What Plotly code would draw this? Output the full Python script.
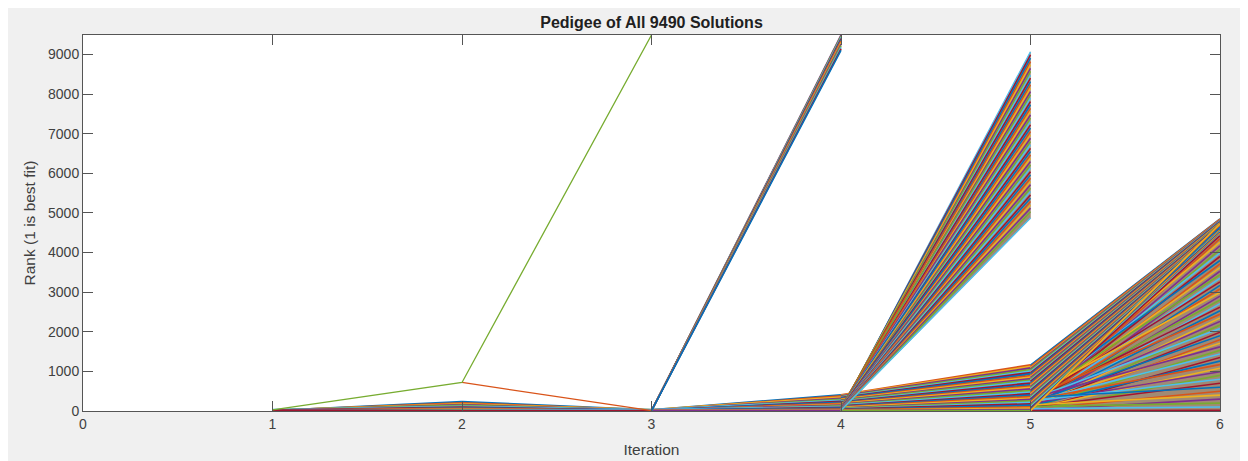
import plotly.graph_objects as go

# ---------------- data (ranks) ----------------
iterations = [0, 1, 2, 3, 4, 5, 6]
n_solutions = 9490

# the single long pedigee that climbs to the top at iteration 3
lead_iter = [1, 2, 3]
lead_rank = [30, 720, 9490]
# its sibling that drops back to the bottom at iteration 3
drop_iter = [2, 3]
drop_rank = [720, 10]

seg12_start = [3, 8, 12, 5, 18, 25, 10, 2, 15, 6, 20, 1, 9, 14]
seg12_end = [230, 195, 170, 150, 130, 110, 90, 70, 55, 40, 28, 16, 8, 2]

seg23_start = [230, 195, 170, 150, 130, 110, 90, 70, 55, 40, 28, 16, 8, 2]
seg23_end = [20, 15, 28, 10, 5, 22, 3, 12, 8, 1, 18, 4, 25, 2]

seg34_start = [20, 15, 28, 10, 5, 22, 3, 12, 8, 1, 18, 4, 25, 2, 14, 7, 11, 6]
seg34_end = [400, 370, 340, 310, 285, 260, 235, 210, 185, 160, 140, 120, 100, 80, 60, 40, 20, 5]

fan34_start = [2, 5, 1, 8, 3, 10, 4, 6, 12, 7, 9, 2]
fan34_end = [9490, 9460, 9430, 9400, 9370, 9340, 9300, 9260, 9220, 9180, 9140, 9100]

seg45_start = [400, 390, 375, 360, 345, 330, 320, 300, 290, 270,
               255, 240, 225, 210, 200, 185, 170, 155, 140, 125,
               110, 100, 85, 70, 60, 50, 40, 30, 20, 12, 6, 2]
seg45_end = [1160, 1120, 1080, 1040, 1000, 965, 930, 890, 850, 810,
             775, 740, 700, 660, 625, 590, 550, 510, 470, 430,
             395, 360, 320, 285, 250, 210, 175, 140, 100, 65, 30, 5]

fan45_start = [5, 12, 30, 8, 45, 20, 60, 15, 75, 35,
               90, 25, 50, 100, 40, 70, 10, 95, 55, 85,
               18, 80, 65, 90, 28, 75, 48, 60, 38, 70,
               50, 22, 45, 58, 30, 42, 25, 35, 32, 20,
               28, 15, 25, 18, 12, 22, 8, 15, 5, 20]
fan45_end = [9066, 8990, 8905, 8820, 8740, 8650, 8570, 8480, 8400, 8315,
             8230, 8150, 8060, 7980, 7895, 7810, 7730, 7640, 7560, 7470,
             7390, 7305, 7220, 7140, 7050, 6970, 6885, 6800, 6720, 6630,
             6550, 6460, 6380, 6295, 6210, 6130, 6040, 5960, 5875, 5790,
             5710, 5620, 5540, 5450, 5370, 5285, 5200, 5120, 5030, 4870]

fan56a_start = [1160, 1125, 1090, 1060, 1030, 995, 965, 930, 900, 870,
                840, 805, 775, 745, 710, 680, 650, 615, 585, 555,
                520, 490, 460, 425, 395, 365, 330, 300, 270, 235,
                205, 175, 140, 110, 75, 40, 20, 5]
fan56a_end = [4850, 4840, 4825, 4815, 4800, 4790, 4780, 4765, 4750, 4740,
              4725, 4715, 4700, 4690, 4675, 4665, 4650, 4640, 4625, 4610,
              4600, 4590, 4575, 4560, 4550, 4540, 4525, 4510, 4500, 4490,
              4475, 4460, 4450, 4440, 4425, 4650, 4700, 4720]

fan56b_start = [10, 150, 40, 280, 80, 20, 220, 120, 350, 60,
                180, 5, 300, 90, 240, 30, 140, 380, 70, 200,
                15, 260, 110, 330, 50, 170, 25, 290, 100, 210,
                35, 160, 320, 75, 230, 12, 130, 270, 55, 190,
                8, 250, 95, 340, 45, 150, 20, 110, 60, 5]
fan56b_end = [4550, 4450, 4350, 4260, 4170, 4080, 3990, 3900, 3800, 3710,
              3620, 3530, 3440, 3350, 3260, 3170, 3080, 2990, 2900, 2800,
              2710, 2620, 2530, 2440, 2350, 2260, 2170, 2080, 1990, 1900,
              1800, 1710, 1620, 1530, 1440, 1350, 1260, 1170, 1080, 990,
              900, 800, 700, 600, 500, 400, 300, 200, 100, 20]

y_ticks = [0, 1000, 2000, 3000, 4000, 5000, 6000, 7000, 8000, 9000]

# ---------------- style ----------------
MATLAB = ["#0072BD", "#D95319", "#EDB120", "#7E2F8E", "#77AC30", "#4DBEEE", "#A2142F"]
FONT = "Liberation Sans, Arial, Helvetica, sans-serif"
MIX = "#a08a74"

fig = go.Figure()
counter = [0]


def add_group(x0, x1, starts, ends, width):
    for s, e in zip(starts, ends):
        c = MATLAB[counter[0] % 7]
        counter[0] += 1
        fig.add_trace(go.Scatter(x=[x0, x1], y=[s, e], mode="lines",
                                 line=dict(color=c, width=width),
                                 hoverinfo="skip", showlegend=False))


def add_fan_hull(x0, x1, starts, ends):
    # region swept by a fan: between its top and bottom member lines
    top = max(range(len(ends)), key=lambda i: ends[i])
    bot = min(range(len(ends)), key=lambda i: ends[i])
    fig.add_trace(go.Scatter(
        x=[x0, x1, x1, x0, x0],
        y=[starts[top], ends[top], ends[bot], starts[bot], starts[top]],
        mode="lines", fill="toself", fillcolor=MIX,
        line=dict(color=MIX, width=0.5), hoverinfo="skip", showlegend=False))


def add_band_hull(x0, x1, starts, ends):
    # region swept by a band of crossing lines: bounded by extremes at both ends
    fig.add_trace(go.Scatter(
        x=[x0, x0, x1, x1, x0],
        y=[min(starts), max(starts), max(ends), min(ends), min(starts)],
        mode="lines", fill="toself", fillcolor=MIX,
        line=dict(color=MIX, width=0.5), hoverinfo="skip", showlegend=False))


add_group(1, 2, seg12_start, seg12_end, 2.5)
add_group(2, 3, seg23_start, seg23_end, 2.5)
fig.add_trace(go.Scatter(x=drop_iter, y=drop_rank, mode="lines",
                         line=dict(color=MATLAB[1], width=1.3), hoverinfo="skip", showlegend=False))
fig.add_trace(go.Scatter(x=lead_iter, y=lead_rank, mode="lines",
                         line=dict(color=MATLAB[4], width=1.3), hoverinfo="skip", showlegend=False))
add_group(3, 4, seg34_start, seg34_end, 2.5)
add_fan_hull(3, 4, fan34_start, fan34_end)
counter[0] = 3
add_group(3, 4, fan34_start, fan34_end, 1.5)
add_group(4, 5, seg45_start, seg45_end, 2.2)
add_fan_hull(4, 5, fan45_start, fan45_end)
add_group(4, 5, fan45_start, fan45_end, 1.5)
add_band_hull(5, 6, fan56a_start + fan56b_start, fan56a_end + fan56b_end)
add_group(5, 6, fan56b_start, fan56b_end, 1.6)
add_group(5, 6, fan56a_start, fan56a_end, 1.6)

axis_common = dict(showline=True, linecolor="#555555", linewidth=1, mirror="ticks",
                   ticks="inside", ticklen=10, tickcolor="#555555", tickwidth=1,
                   showgrid=False, zeroline=False, automargin=False,
                   tickfont=dict(family=FONT, size=14, color="#404040"))

# page has an 8px body margin; figure coordinates are offset accordingly
fig.update_layout(
    width=1240, height=453,
    paper_bgcolor="#f0f0f0", plot_bgcolor="white",
    margin=dict(l=75, r=28, t=27, b=50),
    title=dict(text="<b>Pedigee of All 9490 Solutions</b>", x=0.5, xref="paper",
               y=1 - 14 / 453, yref="container", yanchor="middle", xanchor="center",
               font=dict(family=FONT, size=16, color="#202020")),
    xaxis=dict(range=[iterations[0], iterations[-1]], tickvals=iterations,
               title=dict(text="Iteration", font=dict(family=FONT, size=15.5, color="#404040"), standoff=13),
               **axis_common),
    yaxis=dict(range=[0, n_solutions], tickvals=y_ticks,
               title=dict(text="Rank (1 is best fit)", font=dict(family=FONT, size=15.5, color="#404040"), standoff=8),
               **axis_common),
)

fig.write_html("out.html")
